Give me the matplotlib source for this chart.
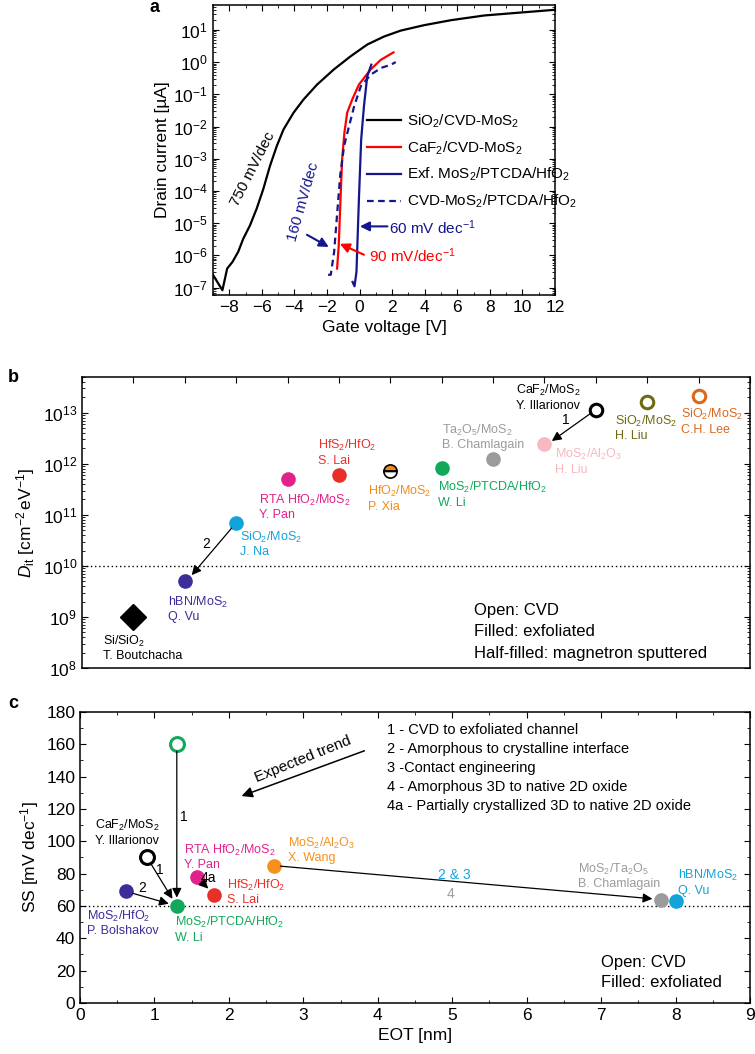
import numpy as np
import matplotlib
matplotlib.use('Agg')
import matplotlib.pyplot as plt
from matplotlib.ticker import MultipleLocator, LogLocator, NullFormatter

plt.rcParams['font.family'] = ['Liberation Sans', 'DejaVu Sans']
plt.rcParams['mathtext.fontset'] = 'custom'
plt.rcParams['mathtext.rm'] = 'Liberation Sans'
plt.rcParams['mathtext.it'] = 'Liberation Sans:italic'
plt.rcParams['mathtext.bf'] = 'Liberation Sans:bold'
plt.rcParams['axes.linewidth'] = 1.1

# ---- panel a: transfer curves (gate voltage [V], drain current [uA])
vg_sio2 = [-9.0, -8.68, -8.42, -8.13, -7.80, -7.45, -7.14, -6.73, -6.32, -5.91, -5.50, -5.08, -4.67,
           -4.05, -3.44, -2.61, -1.58, -0.56, 0.47, 1.50, 2.53, 3.97, 5.62, 7.67, 9.73, 12.0]
id_sio2 = [2.5e-7, 1.35e-7, 8.3e-8, 3.9e-7, 6.3e-7, 1.3e-6, 3.3e-6, 8.5e-6, 2.8e-5, 1.15e-4, 6.0e-4,
           2.5e-3, 8.1e-3, 2.7e-2, 6.9e-2, 0.20, 0.59, 1.5, 3.5, 6.2, 9.5, 14, 20, 28, 34, 42]
vg_caf2 = [-1.38, -1.28, -1.17, -1.07, -0.93, -0.76, -0.45, -0.04, 0.68, 1.30, 2.08]
id_caf2 = [3.9e-7, 2.0e-6, 5.6e-5, 9.8e-4, 6.5e-3, 2.7e-2, 6.9e-2, 0.20, 0.59, 1.17, 2.0]
vg_exf = [-0.43, -0.31, -0.19, -0.04, 0.10, 0.27, 0.47, 0.72]
id_exf = [1.5e-7, 1.1e-7, 3.1e-7, 5.6e-5, 4.0e-3, 4.3e-2, 0.36, 0.83]
vg_cvd = [-1.93, -1.77, -1.56, -1.40, -1.19, -0.95, -0.64, -0.33, 0.08, 0.70, 1.32, 1.93, 2.22]
id_cvd = [2.5e-7, 2.5e-7, 1.3e-6, 1.4e-5, 3.0e-4, 2.5e-3, 1.05e-2, 4.3e-2, 0.18, 0.41, 0.66, 0.83, 1.0]

# ---- panel b: interface trap density
b_names = ['Si/SiO$_2$\nT. Boutchacha', 'hBN/MoS$_2$\nQ. Vu', 'SiO$_2$/MoS$_2$\nJ. Na',
           'RTA HfO$_2$/MoS$_2$\nY. Pan', 'HfS$_2$/HfO$_2$\nS. Lai', 'HfO$_2$/MoS$_2$\nP. Xia',
           'MoS$_2$/PTCDA/HfO$_2$\nW. Li', 'Ta$_2$O$_5$/MoS$_2$\nB. Chamlagain',
           'MoS$_2$/Al$_2$O$_3$\nH. Liu', 'CaF$_2$/MoS$_2$\nY. Illarionov',
           'SiO$_2$/MoS$_2$\nH. Liu', 'SiO$_2$/MoS$_2$\nC.H. Lee']
b_dit = [1e9, 5e9, 7e10, 5e11, 6e11, 7.2e11, 8.3e11, 1.25e12, 2.4e12, 1.15e13, 1.6e13, 2.1e13]
b_kind = ['diamond', 'filled', 'filled', 'filled', 'filled', 'half', 'filled', 'filled',
          'filled', 'open', 'open', 'open']
b_colors = ['black', '#3b2d9a', '#12a3db', '#e2228b', '#e8302a', '#f28a1e', '#12a85a', '#9b9b9b',
            '#f7b8bf', 'black', '#6e6a12', '#d9691c']
b_text_xy = [(0.41, 2.5e8), (1.67, 1.45e9), (3.07, 2.7e10), (3.45, 1.43e11), (4.6, 1.67e12),
             (5.57, 2.1e11), (6.92, 2.5e11), (7.0, 3.4e12), (9.2, 1.12e12), (8.45, 2.0e13),
             (10.37, 5.1e12), (11.66, 6.8e12)]

# ---- panel c: subthreshold swing vs EOT
c_eot = [1.3, 0.9, 0.62, 1.3, 1.57, 1.8, 2.6, 7.8, 8.0]
c_ss = [160, 90, 69, 60, 78, 67, 85, 64, 63]
c_open = [True, True, False, False, False, False, False, False, False]
c_colors = ['#12a85a', 'black', '#3b2d9a', '#12a85a', '#e2228b', '#e8302a', '#f5901e', '#9b9b9b', '#12a3db']
c_names = [None, 'CaF$_2$/MoS$_2$\nY. Illarionov', 'MoS$_2$/HfO$_2$\nP. Bolshakov',
           'MoS$_2$/PTCDA/HfO$_2$\nW. Li', 'RTA HfO$_2$/MoS$_2$\nY. Pan', 'HfS$_2$/HfO$_2$\nS. Lai',
           'MoS$_2$/Al$_2$O$_3$\nX. Wang', 'MoS$_2$/Ta$_2$O$_5$\nB. Chamlagain', 'hBN/MoS$_2$\nQ. Vu']
c_text_xy = [None, (0.2, 105.5), (0.1, 49.5), (1.27, 45.5), (1.40, 90.5), (1.97, 68.5),
             (2.8, 94.8), (6.69, 78.5), (8.03, 74.5)]
c_arrows = [(0, 3), (1, 3), (2, 3), (4, 5), (6, 7)]
trend_notes = ['1 - CVD to exfoliated channel', '2 - Amorphous to crystalline interface',
               '3 -Contact engineering', '4 - Amorphous 3D to native 2D oxide',
               '4a - Partially crystallized 3D to native 2D oxide']

navy = '#14168c'


def style(ax):
    ax.tick_params(which='both', direction='in', top=True, right=True, labelsize=12.5)
    ax.tick_params(which='major', length=4, width=0.8)
    ax.tick_params(which='minor', length=2, width=0.6)


fig = plt.figure(figsize=(7.55, 10.54), dpi=100)

# ================= a
ax = fig.add_axes([0.2821, 0.7201, 0.4530, 0.2751])
ax.plot(vg_sio2, id_sio2, color='black', lw=1.6, label='SiO$_2$/CVD-MoS$_2$')
ax.plot(vg_caf2, id_caf2, color='red', lw=1.6, label='CaF$_2$/CVD-MoS$_2$')
ax.plot(vg_exf, id_exf, color=navy, lw=1.6, label='Exf. MoS$_2$/PTCDA/HfO$_2$')
ax.plot(vg_cvd, id_cvd, color=navy, lw=1.6, ls=(0, (3, 2)), label='CVD-MoS$_2$/PTCDA/HfO$_2$')
ax.set_yscale('log')
ax.set_xlim(-9, 12)
ax.set_ylim(10**-7.23, 10**1.77)
ax.xaxis.set_major_locator(MultipleLocator(2))
ax.xaxis.set_minor_locator(MultipleLocator(1))
ax.yaxis.set_major_locator(LogLocator(base=10, numticks=100))
ax.yaxis.set_minor_locator(LogLocator(base=10, subs=np.arange(2, 10), numticks=100))
ax.yaxis.set_minor_formatter(NullFormatter())
style(ax)
ax.set_xlabel('Gate voltage [V]', fontsize=12.5, labelpad=4)
ax.set_ylabel('Drain current [\u00b5A]', fontsize=12.5, labelpad=2)
ax.legend(loc='upper left', bbox_to_anchor=(0.45, 0.63), frameon=False, fontsize=11,
          handlelength=2.2, handletextpad=0.4, labelspacing=0.62, borderaxespad=0, borderpad=0)
ax.text(-6.52, 10**-3.32, '750 mV/dec', rotation=63, fontsize=11, ha='center', va='center')
ax.text(-3.44, 10**-4.35, '160 mV/dec', rotation=74, fontsize=11, ha='center', va='center', color=navy)
ax.annotate('', xy=(-1.89, 10**-5.74), xytext=(-3.23, 10**-5.36),
            arrowprops=dict(arrowstyle='-|>', color=navy, lw=1.5, mutation_scale=14, shrinkA=0, shrinkB=0))
ax.text(1.81, 10**-5.15, '60 mV dec$^{-1}$', fontsize=11, ha='left', va='center', color=navy)
ax.annotate('', xy=(0.02, 10**-5.1), xytext=(1.71, 10**-5.1),
            arrowprops=dict(arrowstyle='-|>', color=navy, lw=1.5, mutation_scale=14, shrinkA=0, shrinkB=0))
ax.text(0.58, 10**-6.02, '90 mV/dec$^{-1}$', fontsize=11, ha='left', va='center', color='red')
ax.annotate('', xy=(-1.21, 10**-5.64), xytext=(0.27, 10**-5.98),
            arrowprops=dict(arrowstyle='-|>', color='red', lw=1.5, mutation_scale=14, shrinkA=0, shrinkB=0))
fig.text(155 / 755, 1 - 8 / 1054, 'a', fontsize=13, fontweight='bold', ha='center', va='center')

# ================= b
ax = fig.add_axes([0.1086, 0.3662, 0.8848, 0.2761])
ax.axhline(1e10, color='black', lw=1, ls=(0, (1, 2)))
for i, (val, kind, col) in enumerate(zip(b_dit, b_kind, b_colors)):
    x = i + 1
    if kind == 'diamond':
        ax.plot(x, val, marker='D', ms=13, color='black', ls='none')
    elif kind == 'open':
        ax.plot(x, val, marker='o', ms=9, mfc='none', mec=col, mew=2.2, ls='none')
    elif kind == 'half':
        ax.plot(x, val, marker='o', ms=9.5, fillstyle='top', mfc=col, mfcalt='white',
                mec='black', mew=1.2, ls='none')
        ax.plot(x, val, marker='_', ms=9.5, mec='black', mew=1.2, ls='none')
    else:
        ax.plot(x, val, marker='o', ms=9.5, color=col, ls='none')
for name, (tx, ty), col in zip(b_names, b_text_xy, b_colors):
    ax.text(tx, ty, name, fontsize=9, color=col, ha='left', va='center', linespacing=1.15)
ax.annotate('', xy=(9.1, 2.6e12), xytext=(10, b_dit[9]),
            arrowprops=dict(arrowstyle='-|>', color='black', lw=0.9, mutation_scale=14, shrinkA=5, shrinkB=2))
ax.annotate('', xy=(2.1, 6e9), xytext=(3, b_dit[2]),
            arrowprops=dict(arrowstyle='-|>', color='black', lw=0.9, mutation_scale=14, shrinkA=5, shrinkB=2))
ax.text(9.42, 7.2e12, '1', fontsize=10, ha='center', va='center')
ax.text(2.41, 2.7e10, '2', fontsize=10, ha='center', va='center')
ax.text(7.63, 10**9.12, 'Open: CVD', fontsize=12, ha='left', va='center')
ax.text(7.63, 10**8.71, 'Filled: exfoliated', fontsize=12, ha='left', va='center')
ax.text(7.63, 10**8.29, 'Half-filled: magnetron sputtered', fontsize=12, ha='left', va='center')
ax.set_yscale('log')
ax.set_xlim(0, 13)
ax.set_ylim(1e8, 10**13.7)
ax.xaxis.set_major_locator(MultipleLocator(1))
ax.yaxis.set_major_locator(LogLocator(base=10, numticks=100))
ax.yaxis.set_minor_locator(LogLocator(base=10, subs=np.arange(2, 10), numticks=100))
ax.yaxis.set_minor_formatter(NullFormatter())
style(ax)
ax.tick_params(axis='x', bottom=False, labelbottom=False)
ax.set_ylabel(r'$D_{\mathrm{it}}$ [cm$^{-2}\,$eV$^{-1}$]', fontsize=12.5, labelpad=4)
fig.text(8 / 755, 1 - 377 / 1054, 'b', fontsize=13, fontweight='bold', ha='left', va='center')

# ================= c
ax = fig.add_axes([0.1060, 0.0484, 0.8874, 0.2761])
ax.axhline(60, color='black', lw=1, ls=(0, (1, 2)))
for a, b in c_arrows:
    ax.annotate('', xy=(c_eot[b], c_ss[b]), xytext=(c_eot[a], c_ss[a]),
                arrowprops=dict(arrowstyle='-|>', color='black', lw=0.9, mutation_scale=14,
                                shrinkA=5, shrinkB=6))
for x, y, op, col in zip(c_eot, c_ss, c_open, c_colors):
    if op:
        ax.plot(x, y, marker='o', ms=10, mfc='white', mec=col, mew=2.2, ls='none')
    else:
        ax.plot(x, y, marker='o', ms=9.5, color=col, ls='none')
for name, xy, col in zip(c_names, c_text_xy, c_colors):
    if name is None:
        continue
    ax.text(xy[0], xy[1], name, fontsize=9, color=col, ha='left', va='center', linespacing=1.15)
ax.text(1.39, 115, '1', fontsize=10, ha='center', va='center')
ax.text(1.07, 82, '1', fontsize=10, ha='center', va='center')
ax.text(0.84, 71, '2', fontsize=10, ha='center', va='center')
ax.text(1.72, 77.5, '4a', fontsize=10, ha='center', va='center')
ax.text(5.03, 79.4, '2 & 3', fontsize=10, ha='center', va='center', color='#12a3db')
ax.text(4.97, 67.6, '4', fontsize=10, ha='center', va='center', color='#9b9b9b')
ax.annotate('', xy=(2.17, 128), xytext=(3.82, 156),
            arrowprops=dict(arrowstyle='-|>', color='black', lw=1.1, mutation_scale=16, shrinkA=0, shrinkB=0))
ax.text(3.0, 150.5, 'Expected trend', rotation=22, fontsize=11, ha='center', va='center')
for k, note in enumerate(trend_notes):
    ax.text(4.13, 168.7 - 11.75 * k, note, fontsize=10.5, ha='left', va='center')
ax.text(7.0, 25.2, 'Open: CVD', fontsize=12, ha='left', va='center')
ax.text(7.0, 12.4, 'Filled: exfoliated', fontsize=12, ha='left', va='center')
ax.set_xlim(0, 9)
ax.set_ylim(0, 180)
ax.xaxis.set_major_locator(MultipleLocator(1))
ax.xaxis.set_minor_locator(MultipleLocator(0.5))
ax.yaxis.set_major_locator(MultipleLocator(20))
ax.yaxis.set_minor_locator(MultipleLocator(10))
style(ax)
ax.set_xlabel('EOT [nm]', fontsize=12.5, labelpad=4)
ax.set_ylabel('SS [mV dec$^{-1}$]', fontsize=12.5, labelpad=4)
fig.text(8 / 755, 1 - 703 / 1054, 'c', fontsize=13, fontweight='bold', ha='left', va='center')

fig.savefig('out.png', dpi=100)
